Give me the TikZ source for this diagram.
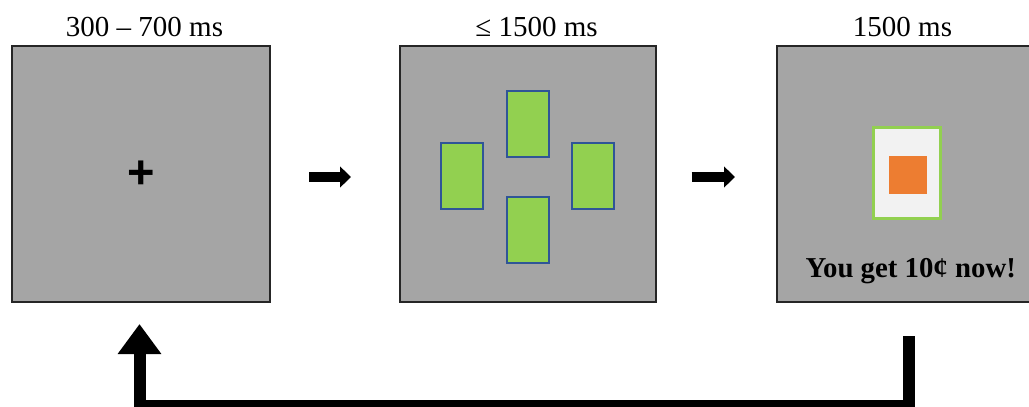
\documentclass[tikz,border=0pt]{standalone}
\usepackage{fontspec}
\setmainfont{Liberation Serif}
\newfontfamily\crossfont{Liberation Sans}
\usetikzlibrary{arrows.meta,calc}

\definecolor{screengray}{HTML}{A5A5A5}
\definecolor{framegray}{HTML}{262626}
\definecolor{cardgreen}{HTML}{92D050}
\definecolor{cardblue}{HTML}{2F5597}
\definecolor{rewardorange}{HTML}{ED7D31}
\definecolor{paper}{HTML}{F2F2F2}

\tikzset{
  panel/.style={draw=framegray, line width=1.2pt, fill=screengray,
    minimum height=256pt, inner sep=0pt, outer sep=0pt},
  timing/.style={anchor=base, inner sep=0pt, font=\fontsize{29}{34}\selectfont},
  card/.style={draw=cardblue, line width=2pt, fill=cardgreen,
    minimum width=42pt, minimum height=66pt, inner sep=0pt},
  fwd/.style={line width=10.6pt, -{Triangle[length=11pt,width=20.6pt]}},
  loopback/.style={line width=12pt, line join=miter,
    -{Triangle[length=30pt,width=41.7pt]}},
}

\begin{document}
\begin{tikzpicture}[x=1pt, y=-1pt]
  \useasboundingbox (0,0) rectangle (1029,407);
  \clip (0,0) rectangle (1029,407);

  % the three screens of a trial
  \node[panel, minimum width=258pt] (p1) at (141,174) {};
  \node[panel, minimum width=256pt] (p2) at (528,174) {};
  \node[panel, minimum width=257pt] (p3) at (905.5,174) {};

  % durations
  \node[timing] (t1) at (144.5,36) {300 – 700 ms};
  \node[timing] (t2) at (536.5,36) {≤ 1500 ms};
  \node[timing] (t3) at (902.5,36) {1500 ms};

  % fixation
  \node[anchor=base, inner sep=0pt, font=\crossfont\bfseries\fontsize{47}{47}\selectfont]
    (fix) at (141.7,188.5) {+};

  % choice cards
  \node[card] (cup)    at (528.3,123.8) {};
  \node[card] (cdown)  at (528.3,229.5) {};
  \node[card] (cleft)  at (461.8,176.3) {};
  \node[card] (cright) at (593.2,176.3) {};

  % feedback
  \node[draw=cardgreen, line width=3.2pt, fill=paper, minimum width=67pt,
    minimum height=91pt, inner sep=0pt] (card) at (907.2,173.3) {};
  \node[fill=rewardorange, minimum width=38pt, minimum height=38pt,
    inner sep=0pt] (reward) at (908.2,175) {};
  \node[anchor=base, inner sep=0pt, font=\bfseries\fontsize{28.8}{34}\selectfont]
    (msg) at (910.7,277) {You get 10¢ now!};

  % transitions between screens
  \draw[fwd] ($(p1.east)+(39,3)$) -- ($(p2.west)+(-49,3)$);
  \draw[fwd] ($(p2.east)+(35.7,3)$) -- ($(p3.west)+(-42,3)$);

  % back to fixation for the next trial
  \coordinate (loopstart) at ($(p3.south)+(3.2,34)$);
  \coordinate (looptip) at ($(p1.south)+(-1.5,22)$);
  \draw[loopback] (loopstart) -- ++(0,70) -| (looptip);
\end{tikzpicture}
\end{document}
